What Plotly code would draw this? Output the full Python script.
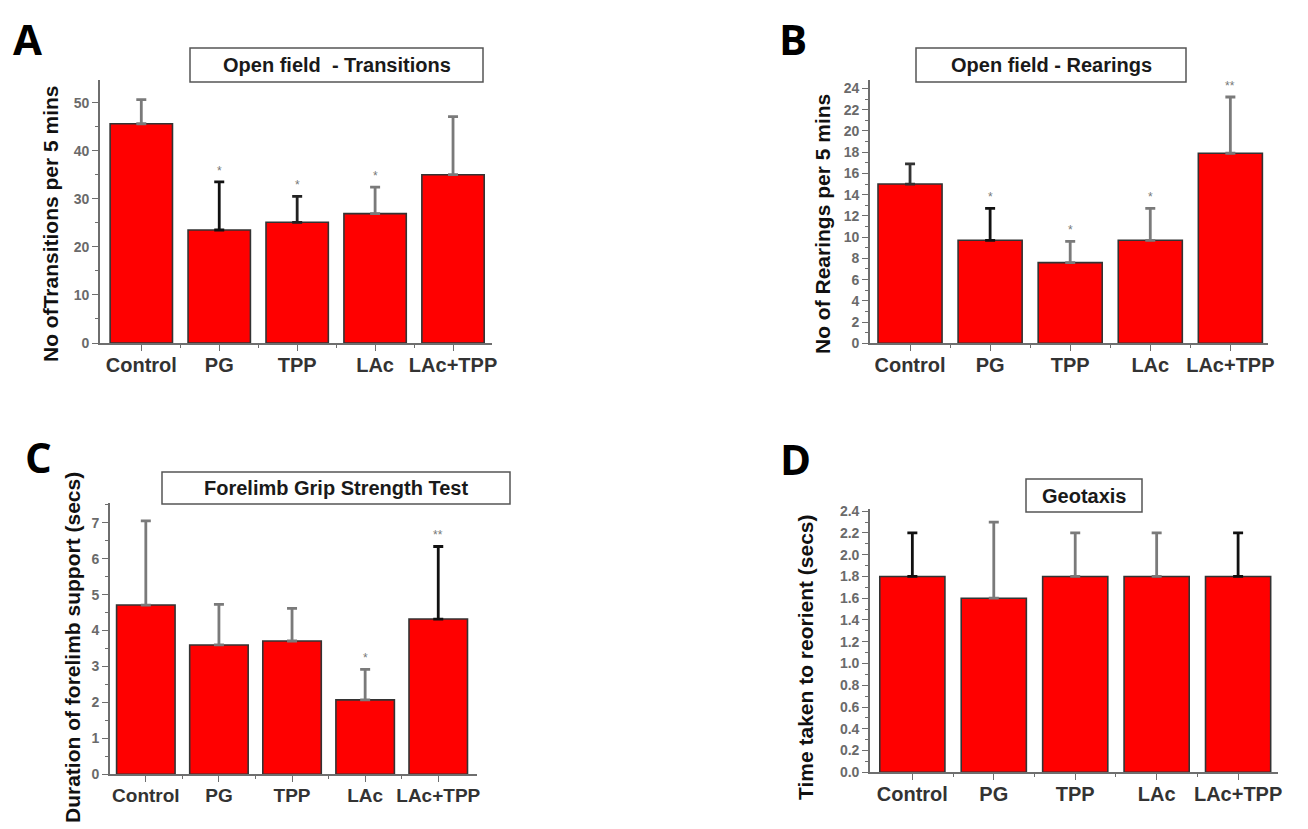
import plotly.graph_objects as go

categories = ["Control", "PG", "TPP", "LAc", "LAc+TPP"]

transitions_mean = [45.6, 23.5, 25.1, 26.9, 35.0]
transitions_upper = [50.6, 33.5, 30.5, 32.4, 47.1]
transitions_sig = ["", "*", "*", "*", ""]

rearings_mean = [15.0, 9.7, 7.6, 9.7, 17.9]
rearings_upper = [16.9, 12.7, 9.6, 12.7, 23.2]
rearings_sig = ["", "*", "*", "*", "**"]

grip_mean = [4.71, 3.60, 3.71, 2.07, 4.32]
grip_upper = [7.05, 4.73, 4.62, 2.92, 6.34]
grip_sig = ["", "", "", "*", "**"]

geotaxis_mean = [1.8, 1.6, 1.8, 1.8, 1.8]
geotaxis_upper = [2.2, 2.3, 2.2, 2.2, 2.2]
geotaxis_sig = ["", "", "", "", ""]

W, H = 1308, 829
OFF = 8  # page body margin


def px(x):
    return (x - OFF) / W


def py(y):
    return 1 - (y - OFF) / H


panels = [
    dict(letter="A", letter_xy=(27, None), mean=transitions_mean, upper=transitions_upper, sig=transitions_sig,
         title="Open field  - Transitions", box=(190, 48, 483, 82),
         ytitle="No ofTransitions per 5 mins", ytitle_xy=(50, 224),
         xdom=(100, 492), ydom=(343, 80), xr=(-0.53, 4.5), yr=(0, 54.7), dtick=10, mdtick=5,
         errcol=["#7a7a7a", "#111111", "#222222", "#7a7a7a", "#7a7a7a"], xlab=20),
    dict(letter="B", letter_xy=(793, None), mean=rearings_mean, upper=rearings_upper, sig=rearings_sig,
         title="Open field - Rearings", box=(916, 48, 1186, 82),
         ytitle="No of Rearings per 5 mins", ytitle_xy=(822, 224),
         xdom=(870, 1268), ydom=(343.3, 80), xr=(-0.5, 4.47), yr=(0, 24.8), dtick=2, mdtick=1,
         errcol=["#333333", "#111111", "#7a7a7a", "#7a7a7a", "#7a7a7a"], xlab=20),
    dict(letter="C", letter_xy=(38, 457), mean=grip_mean, upper=grip_upper, sig=grip_sig,
         title="Forelimb Grip Strength Test", box=(162, 472, 510, 504),
         ytitle="Duration of forelimb support (secs)", ytitle_xy=(72, 648),
         xdom=(110, 477), ydom=(774.3, 503), xr=(-0.49, 4.53), yr=(0, 7.55), dtick=1, mdtick=0.5,
         errcol=["#7a7a7a", "#7a7a7a", "#7a7a7a", "#7a7a7a", "#111111"], xlab=19),
    dict(letter="D", letter_xy=(795, 458), mean=geotaxis_mean, upper=geotaxis_upper, sig=geotaxis_sig,
         title="Geotaxis", box=(1026, 479, 1142, 512),
         ytitle="Time taken to reorient (secs)", ytitle_xy=(805, 657),
         xdom=(870, 1278), ydom=(772.3, 509), xr=(-0.52, 4.49), yr=(0, 2.42), dtick=0.2, mdtick=0.1,
         errcol=["#111111", "#7a7a7a", "#7a7a7a", "#7a7a7a", "#111111"], xlab=20),
]

fig = go.Figure()
annotations = []
shapes = []

for k, p in enumerate(panels):
    n = k + 1
    xa = "x" if n == 1 else f"x{n}"
    ya = "y" if n == 1 else f"y{n}"
    xpos = list(range(len(categories)))
    for i, cat in enumerate(categories):
        fig.add_trace(go.Bar(
            x=[xpos[i]], y=[p["mean"][i]], width=0.8,
            marker=dict(color="#ff0000", line=dict(color="#333333", width=1.6)),
            error_y=dict(type="data", symmetric=False,
                         array=[p["upper"][i] - p["mean"][i]], arrayminus=[0],
                         color=p["errcol"][i], thickness=2.8, width=5),
            xaxis=xa, yaxis=ya, showlegend=False, name=cat,
        ))
        if p["sig"][i]:
            annotations.append(dict(
                x=xpos[i], y=p["upper"][i], xref=xa, yref=ya, text=p["sig"][i],
                showarrow=False, yanchor="bottom", yshift=2,
                font=dict(size=12, color="#777777", family="Liberation Sans")))

    axis_common = dict(showline=True, linecolor="#6e6e6e", linewidth=1.6, showgrid=False,
                       zeroline=False, ticks="outside", tickcolor="#6e6e6e", tickwidth=1.4,
                       automargin=False)
    xkey = "xaxis" if n == 1 else f"xaxis{n}"
    ykey = "yaxis" if n == 1 else f"yaxis{n}"
    fig.update_layout(**{
        xkey: dict(domain=[px(p["xdom"][0]), px(p["xdom"][1])], range=list(p["xr"]), anchor=ya,
                   tickmode="array", tickvals=xpos, ticktext=categories, tickangle=0,
                   ticklen=6, ticklabelstandoff=-3,
                   tickfont=dict(family="Liberation Sans", size=p["xlab"], color="#333333", weight="bold"),
                   minor=dict(tickmode="array", tickvals=[v + 0.5 for v in xpos[:-1]], ticklen=3,
                              ticks="outside", tickcolor="#6e6e6e", showgrid=False),
                   **axis_common),
        ykey: dict(domain=[py(p["ydom"][0]), py(p["ydom"][1])], range=list(p["yr"]), anchor=xa,
                   dtick=p["dtick"], tick0=0, ticklen=6,
                   tickformat=".1f" if p["dtick"] < 1 else "d",
                   tickfont=dict(family="Liberation Sans", size=14, color="#6a6a6a", weight="bold"),
                   minor=dict(dtick=p["mdtick"], tick0=0, ticklen=3, ticks="outside",
                              tickcolor="#6e6e6e", showgrid=False),
                   **axis_common),
    })

    # panel letter
    lx, ly = p["letter_xy"]
    if ly is None:
        annotations.append(dict(x=px(lx), y=1, xref="paper", yref="paper",
                                text=p["letter"], showarrow=False, xanchor="center", yanchor="top",
                                font=dict(family="Open Sans", size=42, color="#000000", weight="bold")))
    else:
        annotations.append(dict(x=px(lx), y=py(ly), xref="paper", yref="paper",
                                text=p["letter"], showarrow=False, xanchor="center", yanchor="middle",
                                font=dict(family="Open Sans", size=42, color="#000000", weight="bold")))
    # title box
    bx0, by0, bx1, by1 = p["box"]
    shapes.append(dict(type="rect", xref="paper", yref="paper",
                       x0=px(bx0), x1=px(bx1), y0=py(by1), y1=py(by0),
                       line=dict(color="#555555", width=1.5), fillcolor="rgba(0,0,0,0)"))
    annotations.append(dict(x=px((bx0 + bx1) / 2), y=py((by0 + by1) / 2), xref="paper", yref="paper",
                            text=p["title"], showarrow=False, xanchor="center", yanchor="middle",
                            font=dict(family="Liberation Sans", size=20, color="#1a1a1a", weight="bold")))
    # y-axis title
    annotations.append(dict(x=px(p["ytitle_xy"][0]), y=py(p["ytitle_xy"][1]), xref="paper", yref="paper",
                            text=p["ytitle"], showarrow=False, textangle=-90,
                            xanchor="center", yanchor="middle",
                            font=dict(family="Liberation Sans", size=21, color="#111111", weight="bold")))

fig.update_layout(width=W, height=H, margin=dict(l=0, r=0, t=0, b=0, autoexpand=False),
                  plot_bgcolor="white", paper_bgcolor="white",
                  annotations=annotations, shapes=shapes, barmode="overlay")

fig.write_html("out.html")
